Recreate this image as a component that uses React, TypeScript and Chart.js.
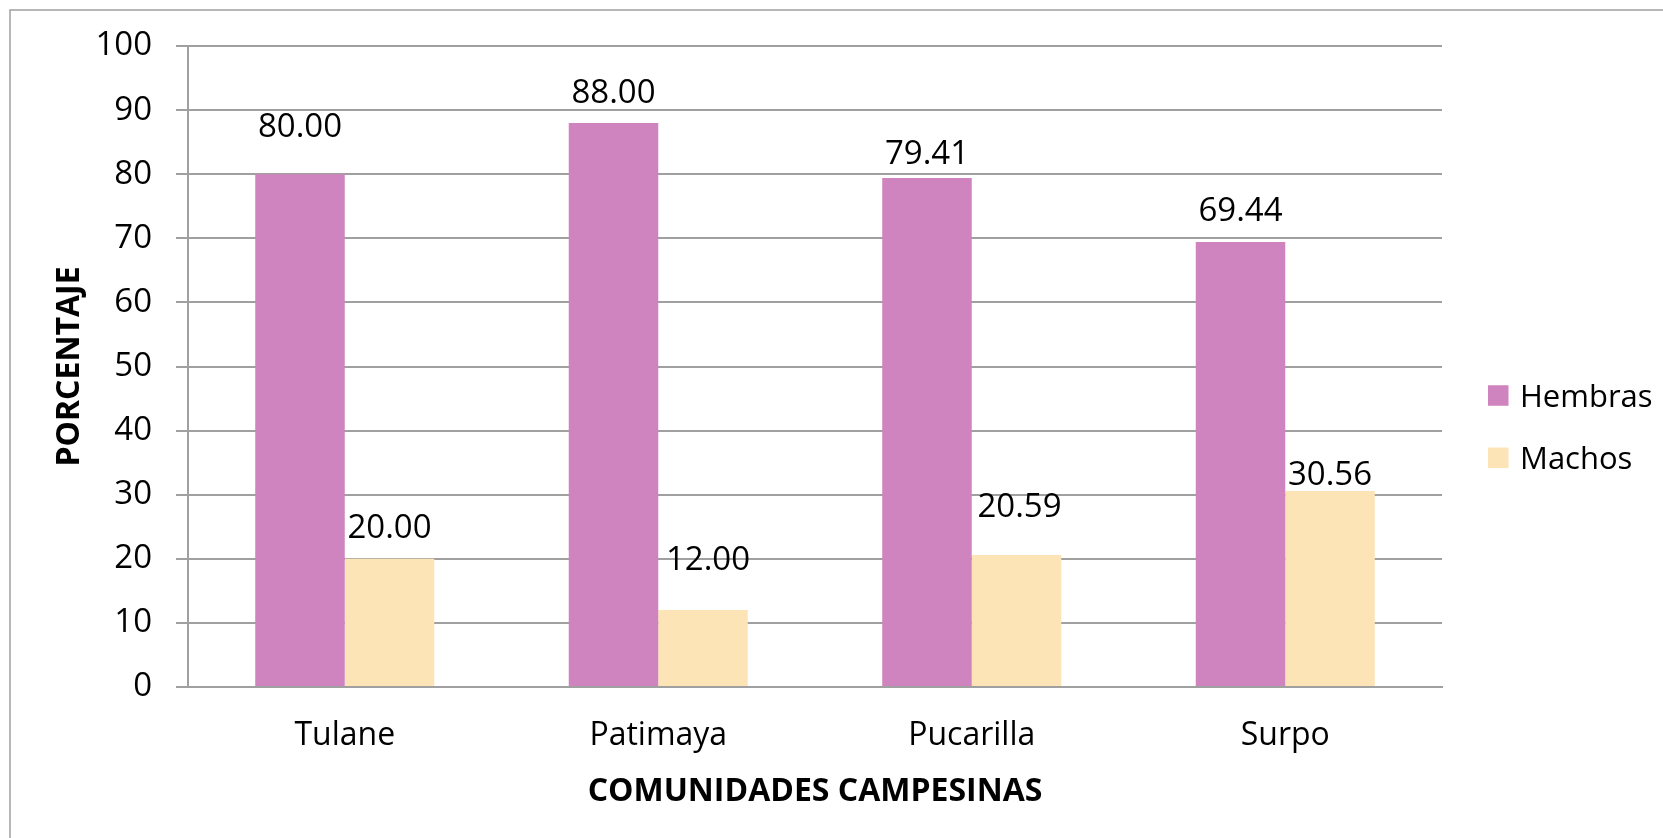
import React, { useEffect, useRef } from "react";
import { Chart, registerables } from "chart.js";

Chart.register(...registerables);

// ---- data ----
const categories = ["Tulane", "Patimaya", "Pucarilla", "Surpo"];
const seriesNames = ["Hembras", "Machos"];
const hembras = [80.0, 88.0, 79.41, 69.44];
const machos = [20.0, 12.0, 20.59, 30.56];
const yMin = 0;
const yMax = 100;
const yStep = 10;
const xTitle = "COMUNIDADES CAMPESINAS";
const yTitle = "PORCENTAJE";

// ---- presentation ----
const COLORS = ["#CF83BF", "#FCE4B7"];
const FONT = "'Open Sans', 'Noto Sans', sans-serif";
const GRID = "#a0a0a0";
// manual label placement (px above the bar top, px shift sideways), as in the source
const labelLift = [
  [49, 32, 26, 33],
  [33, 52, 50, 18],
];
const labelShift = [
  [0, 0, 0, 0],
  [0, 5, 3, 0],
];

const framePlugin = {
  id: "frame",
  beforeDraw(chart: any) {
    const { ctx, width, height } = chart;
    ctx.save();
    ctx.fillStyle = "#ffffff";
    ctx.fillRect(0, 0, width, height);
    ctx.strokeStyle = "#a0a0a0";
    ctx.lineWidth = 1.5;
    ctx.strokeRect(10, 10, width + 50, height + 50);
    ctx.restore();
  },
};

const valueLabelPlugin = {
  id: "valueLabels",
  afterDatasetsDraw(chart: any) {
    const { ctx } = chart;
    const size = 33;
    ctx.save();
    ctx.font = `${size}px ${FONT}`;
    ctx.fillStyle = "#000000";
    ctx.textAlign = "center";
    ctx.textBaseline = "alphabetic";
    chart.data.datasets.forEach((ds: any, i: number) => {
      const meta = chart.getDatasetMeta(i);
      meta.data.forEach((el: any, j: number) => {
        const v = ds.data[j] as number;
        const x = el.x + labelShift[i][j];
        const y = el.y - labelLift[i][j] + size * 0.357;
        ctx.fillText(v.toFixed(2), x, y);
      });
    });
    ctx.restore();
  },
};

const legendPlugin = {
  id: "sideLegend",
  afterDraw(chart: any) {
    const { ctx, chartArea } = chart;
    const size = 31;
    const box = 20.5;
    const x0 = chartArea.right + 46;
    const yFirst = chartArea.top + 349.5;
    const gap = 62.3;
    ctx.save();
    ctx.font = `${size}px ${FONT}`;
    ctx.textAlign = "left";
    ctx.textBaseline = "alphabetic";
    chart.data.datasets.forEach((ds: any, i: number) => {
      const cy = yFirst + i * gap;
      ctx.fillStyle = ds.backgroundColor;
      ctx.fillRect(x0, cy - box / 2, box, box);
      ctx.fillStyle = "#000000";
      ctx.fillText(ds.label, x0 + box + 11.5, cy + size * 0.357);
    });
    ctx.restore();
  },
};

export default function App() {
  const ref = useRef<HTMLCanvasElement | null>(null);

  useEffect(() => {
    if (!ref.current) return;
    const chart = new Chart(ref.current, {
      type: "bar",
      data: {
        labels: categories,
        datasets: [
          {
            label: seriesNames[0],
            data: hembras,
            backgroundColor: COLORS[0],
            borderWidth: 0,
            categoryPercentage: 0.571,
            barPercentage: 1,
          },
          {
            label: seriesNames[1],
            data: machos,
            backgroundColor: COLORS[1],
            borderWidth: 0,
            categoryPercentage: 0.571,
            barPercentage: 1,
          },
        ],
      },
      options: {
        animation: false,
        responsive: true,
        maintainAspectRatio: false,
        layout: { padding: { left: 0, top: 46, right: 221, bottom: 0 } },
        plugins: {
          legend: { display: false },
          tooltip: { enabled: false },
        },
        scales: {
          x: {
            grid: { display: false, drawTicks: false },
            border: { display: true, color: GRID, width: 2 },
            ticks: {
              color: "#000000",
              font: { family: FONT, size: 32 },
              padding: 29.5,
            },
            title: {
              display: true,
              text: xTitle,
              color: "#000000",
              font: { family: FONT, size: 32, weight: "bold" },
              padding: { top: 0, bottom: 27 },
            },
            afterFit: (scale: any) => {
              scale.height = 151;
            },
          },
          y: {
            min: yMin,
            max: yMax,
            ticks: {
              stepSize: yStep,
              color: "#000000",
              font: { family: FONT, size: 33 },
              padding: 24,
            },
            grid: {
              color: GRID,
              lineWidth: 2,
              drawTicks: true,
              tickLength: 12,
            },
            border: { display: true, color: GRID, width: 2 },
            title: {
              display: true,
              text: yTitle,
              color: "#000000",
              font: { family: FONT, size: 32, weight: "bold" },
              padding: { top: 51, bottom: 0 },
            },
            afterFit: (scale: any) => {
              scale.width = 188;
            },
          },
        },
      },
      plugins: [framePlugin, valueLabelPlugin, legendPlugin],
    });
    return () => chart.destroy();
  }, []);

  return (
    <div
      style={{
        position: "absolute",
        left: 0,
        top: 0,
        width: 1663,
        height: 838,
        background: "#ffffff",
      }}
    >
      <canvas ref={ref} />
    </div>
  );
}
